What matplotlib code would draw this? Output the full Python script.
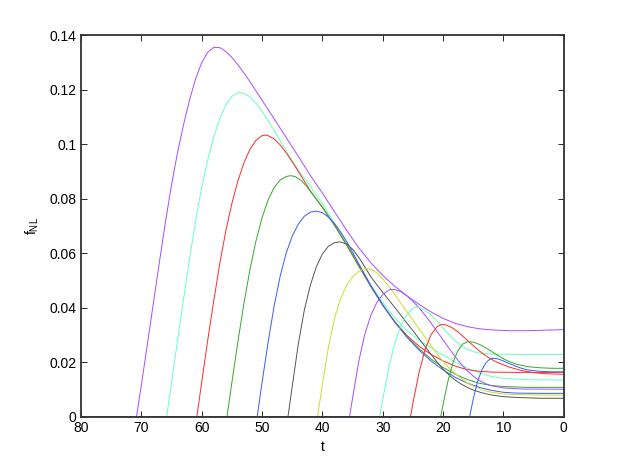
import matplotlib
matplotlib.use('Agg')
import matplotlib.pyplot as plt

# f_NL(t) curves; each starts at zero at t=80
t_purple1 = [80, 70.8, 70, 69, 68, 67, 66, 65, 64, 63, 62, 61, 60, 59, 58, 57, 56, 55, 54, 53,
             52, 51, 50, 49, 48, 46, 44, 42, 40, 38, 36, 34, 32, 30, 28, 26, 24, 22, 20, 18,
             16, 14, 12, 9, 6, 3, 0]
f_purple1 = [0, 0, 0.0115, 0.0265, 0.0417, 0.0568, 0.0715, 0.0850, 0.0970, 0.1072, 0.1163,
             0.1240, 0.1299, 0.1337, 0.1355, 0.1354, 0.1340, 0.1318, 0.1291, 0.1261, 0.1229,
             0.1195, 0.1161, 0.1127, 0.1093, 0.1024, 0.0955, 0.0885, 0.0820, 0.0752, 0.0684,
             0.0620, 0.0565, 0.0518, 0.0478, 0.0443, 0.0412, 0.0384, 0.0360, 0.0342, 0.0330,
             0.0322, 0.0318, 0.0315, 0.0315, 0.0317, 0.0319]

t_aqua1 = [80, 65.8, 65, 64, 63, 62, 61, 60, 59, 58, 57, 56, 55, 54, 53.7, 53, 52, 51, 50, 49,
           48, 46, 44, 42, 40, 38, 36, 34, 32, 30, 28, 26, 24, 22, 20, 18, 16, 14, 12, 10, 6, 0]
f_aqua1 = [0, 0, 0.0124, 0.0279, 0.0432, 0.0580, 0.0720, 0.0840, 0.0942, 0.1027, 0.1094, 0.1143,
           0.1175, 0.1189, 0.1190, 0.1186, 0.1173, 0.1150, 0.1120, 0.1086, 0.1050, 0.0975,
           0.0905, 0.0845, 0.0780, 0.0710, 0.0635, 0.0558, 0.0483, 0.0418, 0.0362, 0.0315,
           0.0280, 0.0252, 0.0225, 0.0200, 0.0178, 0.0160, 0.0147, 0.0140, 0.0135, 0.0134]

t_red1 = [80, 60.8, 60, 59, 58, 57, 56, 55, 54, 53, 52, 51, 50, 49.5, 49, 48, 47, 46, 45, 44,
          43, 42, 40, 38, 36, 34, 32, 30, 28, 26, 24, 22, 20, 18, 16, 14, 12, 8, 0]
f_red1 = [0, 0, 0.0125, 0.0280, 0.0425, 0.0562, 0.0682, 0.0782, 0.0865, 0.0931, 0.0981, 0.1014,
          0.1031, 0.1033, 0.1031, 0.1019, 0.0997, 0.0968, 0.0935, 0.0900, 0.0864, 0.0828,
          0.0768, 0.0702, 0.0630, 0.0553, 0.0478, 0.0408, 0.0348, 0.0298, 0.0258, 0.0228,
          0.0204, 0.0185, 0.0172, 0.0166, 0.0163, 0.0162, 0.0162]

t_green1 = [80, 55.8, 55, 54, 53, 52, 51, 50, 49, 48, 47, 46, 45.3, 44.5, 43.5, 42.5, 41.5, 40,
            38, 36, 34, 32, 30, 28, 26, 24, 22, 20, 18, 16, 14, 12, 10, 6, 0]
f_green1 = [0, 0, 0.0125, 0.0275, 0.0415, 0.0540, 0.0645, 0.0730, 0.0795, 0.0840, 0.0868,
            0.0881, 0.0884, 0.0881, 0.0866, 0.0842, 0.0812, 0.0768, 0.0703, 0.0631, 0.0554,
            0.0479, 0.0409, 0.0347, 0.0294, 0.0249, 0.0211, 0.0180, 0.0155, 0.0136, 0.0122,
            0.0114, 0.0110, 0.0107, 0.0107]

t_blue1 = [80, 50.8, 50, 49, 48, 47, 46, 45, 44, 43, 42, 41, 40, 39, 38, 37, 36, 35, 34, 32,
           30, 28, 26, 24, 22, 20, 18, 16, 14, 12, 10, 8, 4, 0]
f_blue1 = [0, 0, 0.0125, 0.0272, 0.0405, 0.0515, 0.0600, 0.0662, 0.0706, 0.0735, 0.0750, 0.0754,
           0.0748, 0.0732, 0.0708, 0.0678, 0.0643, 0.0603, 0.0562, 0.0482, 0.0410, 0.0346,
           0.0291, 0.0244, 0.0204, 0.0171, 0.0144, 0.0123, 0.0107, 0.0096, 0.0089, 0.0086,
           0.0085, 0.0085]

t_gray = [80, 45.7, 45, 44, 43, 42, 41, 40, 39, 38, 37.1, 36, 35, 34, 33, 32, 31, 30, 29, 28,
          27, 26, 25, 24, 23, 22, 21, 20, 19, 18, 17, 16, 15, 14, 13, 12, 10, 8, 4, 0]
f_gray = [0, 0, 0.0110, 0.0265, 0.0390, 0.0482, 0.0550, 0.0597, 0.0625, 0.0638, 0.0641, 0.0634,
          0.0614, 0.0585, 0.0550, 0.0514, 0.0484, 0.0456, 0.0428, 0.0400, 0.0372, 0.0343,
          0.0315, 0.0286, 0.0257, 0.0228, 0.0200, 0.0174, 0.0152, 0.0134, 0.0119, 0.0107,
          0.0097, 0.0090, 0.0084, 0.0079, 0.0073, 0.0070, 0.0067, 0.0067]

t_yellow = [80, 40.8, 40, 39, 38, 37, 36, 35, 34, 33, 32.7, 32, 31, 30, 29, 28, 27, 26, 25, 24,
            23, 22, 21, 20, 19, 18, 17, 16, 15, 14, 13, 12, 10, 7, 0]
f_yellow = [0, 0, 0.0118, 0.0255, 0.0360, 0.0432, 0.0481, 0.0513, 0.0533, 0.0543, 0.0544,
            0.0541, 0.0528, 0.0505, 0.0478, 0.0448, 0.0416, 0.0385, 0.0354, 0.0323, 0.0292,
            0.0261, 0.0230, 0.0203, 0.0178, 0.0157, 0.0140, 0.0124, 0.0112, 0.0102, 0.0094,
            0.0089, 0.0083, 0.0080, 0.0078]

t_purple2 = [80, 35.5, 35, 34, 33, 32, 31, 30, 29, 28.6, 28, 27, 26, 25, 24, 23, 22, 21, 20, 19,
             18, 17, 16, 15, 14, 13, 12, 10, 7, 0]
f_purple2 = [0, 0, 0.0068, 0.0200, 0.0300, 0.0370, 0.0418, 0.0448, 0.0464, 0.0467, 0.0466,
             0.0458, 0.0443, 0.0423, 0.0399, 0.0372, 0.0343, 0.0312, 0.0281, 0.0250, 0.0220,
             0.0192, 0.0168, 0.0148, 0.0132, 0.0121, 0.0113, 0.0105, 0.0101, 0.0100]

t_aqua2 = [80, 30.5, 30, 29, 28, 27, 26, 25, 24.6, 24, 23, 22, 21, 20, 19, 18, 17, 16, 15, 14,
           12, 8, 0]
f_aqua2 = [0, 0, 0.0062, 0.0180, 0.0270, 0.0334, 0.0375, 0.0397, 0.0402, 0.0400, 0.0390, 0.0373,
           0.0350, 0.0325, 0.0300, 0.0278, 0.0260, 0.0247, 0.0238, 0.0233, 0.0229, 0.0228, 0.0228]

t_red2 = [80, 25.4, 25, 24, 23, 22, 21, 20.3, 19.5, 18.5, 17.5, 16.5, 15.5, 14.5, 13.5, 12.5,
          11.5, 10.5, 9, 7, 5, 3, 0]
f_red2 = [0, 0, 0.0050, 0.0160, 0.0245, 0.0300, 0.0330, 0.0338, 0.0336, 0.0326, 0.0310, 0.0290,
          0.0270, 0.0250, 0.0232, 0.0217, 0.0204, 0.0194, 0.0181, 0.0169, 0.0161, 0.0157, 0.0155]

t_green2 = [80, 20.4, 20, 19.2, 18.4, 17.6, 16.8, 15.9, 15, 14, 13, 12, 11, 10, 9, 8, 6, 4, 2, 0]
f_green2 = [0, 0, 0.0045, 0.0130, 0.0195, 0.0240, 0.0265, 0.0275, 0.0273, 0.0265, 0.0253,
            0.0239, 0.0225, 0.0212, 0.0201, 0.0193, 0.0183, 0.0179, 0.0177, 0.0177]

t_blue2 = [80, 15.6, 15, 14.3, 13.6, 12.9, 12.3, 11.7, 11, 10, 9, 8, 7, 6, 4, 2, 0]
f_blue2 = [0, 0, 0.0065, 0.0128, 0.0170, 0.0197, 0.0210, 0.0214, 0.0212, 0.0204, 0.0194, 0.0185,
           0.0177, 0.0171, 0.0166, 0.0164, 0.0164]

x_ticks = [80, 70, 60, 50, 40, 30, 20, 10, 0]
y_ticks = [0, 0.02, 0.04, 0.06, 0.08, 0.1, 0.12, 0.14]
y_tick_labels = ['0', '0.02', '0.04', '0.06', '0.08', '0.1', '0.12', '0.14']

purple = '#a64dff'
aqua = '#66ffc0'
red = '#ff2a2a'
green = '#33aa2a'
blue = '#3a5cff'
gray = '#555555'
yellow = '#ccdd2a'

curves = [(t_purple1, f_purple1, purple), (t_aqua1, f_aqua1, aqua), (t_red1, f_red1, red),
          (t_green1, f_green1, green), (t_blue1, f_blue1, blue), (t_gray, f_gray, gray),
          (t_yellow, f_yellow, yellow), (t_purple2, f_purple2, purple), (t_aqua2, f_aqua2, aqua),
          (t_red2, f_red2, red), (t_green2, f_green2, green), (t_blue2, f_blue2, blue)]

plt.rcParams['font.family'] = ['Liberation Sans', 'DejaVu Sans']
plt.rcParams['mathtext.fontset'] = 'custom'
plt.rcParams['mathtext.rm'] = 'Liberation Sans'

fig = plt.figure(figsize=(6.23, 4.68), dpi=100)
ax = fig.add_axes([0.13, 0.11, 0.775, 0.815])

for t, f, c in curves:
    ax.plot(t, f, color=c, linewidth=0.7, zorder=1)

ax.set_xlim(80, 0)
ax.set_ylim(0, 0.14)
ax.set_xticks(x_ticks)
ax.set_xticklabels([str(v) for v in x_ticks])
ax.set_yticks(y_ticks)
ax.set_yticklabels(y_tick_labels)
ax.tick_params(direction='in', top=True, right=True, length=4, width=0.7, labelsize=10,
               color='#262626')
for s in ax.spines.values():
    s.set_linewidth(1.3)
    s.set_color('#333333')
    s.set_zorder(5)
ax.set_xlabel('t', fontsize=10, labelpad=3)
ax.set_ylabel(r'$\mathregular{f_{NL}}$', fontsize=10, labelpad=6)

fig.savefig('out.png', dpi=100)
